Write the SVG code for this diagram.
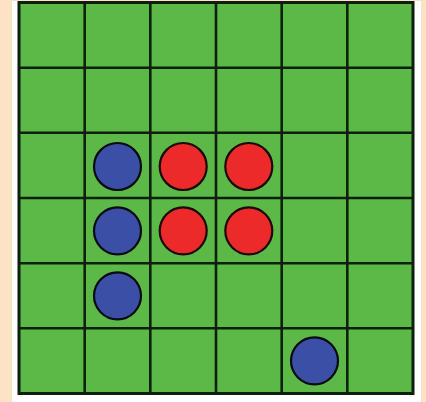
<svg xmlns="http://www.w3.org/2000/svg" width="426" height="402" viewBox="0 0 426 402">
<defs>
<style>
.grid line{stroke:#0d1f0d;stroke-width:2.6}
.blue{fill:#3b4fa6;stroke:#0a0a14;stroke-width:2.2}
.red{fill:#ec2a2a;stroke:#1a0a0a;stroke-width:2.2}
</style>
</defs>
<rect x="0" y="0" width="426" height="402" fill="#fde2c6"/>
<rect x="12" y="1" width="409" height="401" fill="#ffffff"/>
<g id="board">
<rect x="19" y="2.5" width="394" height="391" fill="#5cb847" stroke="#0d1f0d" stroke-width="3"/>
<g class="grid">
<line x1="84.7" y1="2.5" x2="84.7" y2="393.5"/>
<line x1="150.3" y1="2.5" x2="150.3" y2="393.5"/>
<line x1="216" y1="2.5" x2="216" y2="393.5"/>
<line x1="281.7" y1="2.5" x2="281.7" y2="393.5"/>
<line x1="347.3" y1="2.5" x2="347.3" y2="393.5"/>
<line x1="19" y1="67.7" x2="413" y2="67.7"/>
<line x1="19" y1="132.8" x2="413" y2="132.8"/>
<line x1="19" y1="198" x2="413" y2="198"/>
<line x1="19" y1="263.2" x2="413" y2="263.2"/>
<line x1="19" y1="328.3" x2="413" y2="328.3"/>
</g>
</g>
<g id="pieces">
<circle class="blue" cx="117.5" cy="166.5" r="23.5"/>
<circle class="red" cx="183.2" cy="166.5" r="23.5"/>
<circle class="red" cx="248.8" cy="166.5" r="23.5"/>
<circle class="blue" cx="117.5" cy="230.8" r="23.5"/>
<circle class="red" cx="183.2" cy="230.8" r="23.5"/>
<circle class="red" cx="248.8" cy="230.8" r="23.5"/>
<circle class="blue" cx="117.5" cy="295.8" r="23.5"/>
<circle class="blue" cx="314.5" cy="360.8" r="23.5"/>
</g>
</svg>
